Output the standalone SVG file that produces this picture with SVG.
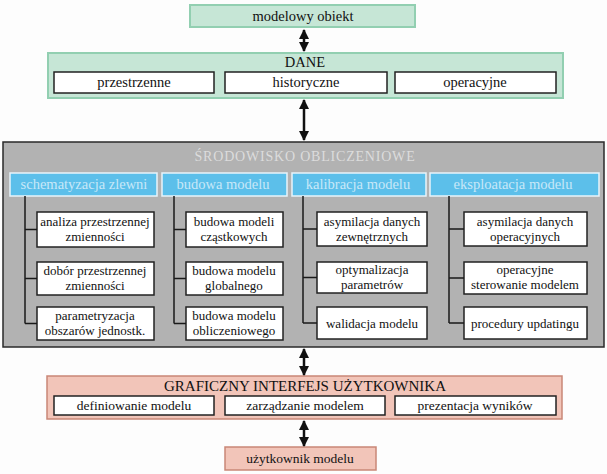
<svg xmlns="http://www.w3.org/2000/svg" width="607" height="474" viewBox="0 0 607 474">
<defs>
<marker id="ah" viewBox="0 0 10 10" refX="9" refY="5" markerWidth="4" markerHeight="4" orient="auto-start-reverse" markerUnits="strokeWidth">
<path d="M0,0 L10,5 L0,10 z" fill="#111"/>
</marker>
<style>
.t{font-family:"Liberation Serif","Times New Roman",serif;font-size:13px;fill:#111;text-anchor:middle}
.tb{font-family:"Liberation Serif","Times New Roman",serif;font-size:14.5px;fill:#111;text-anchor:middle}
.tm{font-family:"Liberation Serif","Times New Roman",serif;font-size:13.5px;fill:#111;text-anchor:middle}
.tg{font-family:"Liberation Serif","Times New Roman",serif;font-size:15px;fill:#111;text-anchor:middle}
.th{font-family:"Liberation Serif","Times New Roman",serif;font-size:14.5px;fill:#c8e8f8;text-anchor:middle}
.tt{font-family:"Liberation Serif","Times New Roman",serif;font-size:14px;fill:#dcdcdc;text-anchor:middle;letter-spacing:0.8px}
.g{fill:#c6e6d6;stroke:#92cfb1;stroke-width:2}
.p{fill:#f2c5b9;stroke:#c98777;stroke-width:1.5}
.w{fill:#fff;stroke:#222;stroke-width:1.5}
.h{fill:#5cbfea;stroke:#e8f4fa;stroke-width:1.5}
.ln{stroke:#1a1a1a;stroke-width:1.5;fill:none}
.ar{stroke:#111;stroke-width:2.5;fill:none;marker-start:url(#ah);marker-end:url(#ah)}
</style>
</defs>
<rect width="607" height="474" fill="#fdfdfd"/>

<g id="modelowy-obiekt">
<rect class="g" x="190" y="5" width="225" height="22"/>
<text class="tb" x="303" y="21">modelowy obiekt</text>
</g>

<g id="dane">
<rect class="g" x="48" y="53" width="515" height="45"/>
<text class="tb" x="305" y="67">DANE</text>
<rect class="w" x="54" y="72" width="160" height="21"/>
<text class="tb" x="134" y="87">przestrzenne</text>
<rect class="w" x="225" y="72" width="162" height="21"/>
<text class="tb" x="306" y="87">historyczne</text>
<rect class="w" x="395" y="72" width="161" height="21"/>
<text class="tb" x="475" y="87">operacyjne</text>
</g>

<g id="srodowisko">
<rect x="3" y="142" width="601" height="205" fill="#b2b2b2" stroke="#2a2a2a" stroke-width="1.5"/>
<text class="tt" x="305" y="161">ŚRODOWISKO OBLICZENIOWE</text>
</g>

<g id="schematyzacja">
<rect class="h" x="10" y="173" width="147" height="23"/>
<text class="th" x="84" y="189">schematyzacja zlewni</text>
<rect class="w" x="37" y="212" width="117" height="35"/>
<text class="t" x="95" y="226">analiza przestrzennej</text>
<text class="t" x="95" y="241">zmienności</text>
<rect class="w" x="37" y="262" width="117" height="33"/>
<text class="t" x="95" y="275">dobór przestrzennej</text>
<text class="t" x="95" y="290">zmienności</text>
<rect class="w" x="37" y="307" width="117" height="33"/>
<text class="t" x="95" y="320">parametryzacja</text>
<text class="t" x="95" y="335">obszarów jednostk.</text>
</g>

<g id="budowa">
<rect class="h" x="162" y="173" width="125" height="23"/>
<text class="th" x="223" y="189">budowa modelu</text>
<rect class="w" x="186" y="212" width="97" height="35"/>
<text class="t" x="234" y="226">budowa modeli</text>
<text class="t" x="234" y="241">cząstkowych</text>
<rect class="w" x="186" y="262" width="97" height="33"/>
<text class="t" x="234" y="275">budowa modelu</text>
<text class="t" x="234" y="290">globalnego</text>
<rect class="w" x="186" y="307" width="97" height="33"/>
<text class="t" x="234" y="320">budowa modelu</text>
<text class="t" x="234" y="335">obliczeniowego</text>
</g>

<g id="kalibracja">
<rect class="h" x="292" y="173" width="134" height="23"/>
<text class="th" x="358" y="189">kalibracja modelu</text>
<rect class="w" x="317" y="212" width="110" height="34"/>
<text class="t" x="372" y="226">asymilacja danych</text>
<text class="t" x="372" y="241">zewnętrznych</text>
<rect class="w" x="317" y="262" width="110" height="31"/>
<text class="t" x="372" y="274">optymalizacja</text>
<text class="t" x="372" y="289">parametrów</text>
<rect class="w" x="317" y="307" width="110" height="32"/>
<text class="t" x="372" y="328">walidacja modelu</text>
</g>

<g id="eksploatacja">
<rect class="h" x="430" y="173" width="169" height="23"/>
<text class="th" x="513" y="189">eksploatacja modelu</text>
<rect class="w" x="464" y="212" width="123" height="34"/>
<text class="t" x="525" y="226">asymilacja danych</text>
<text class="t" x="525" y="241">operacyjnych</text>
<rect class="w" x="464" y="262" width="123" height="32"/>
<text class="t" x="525" y="274">operacyjne</text>
<text class="t" x="525" y="289">sterowanie modelem</text>
<rect class="w" x="464" y="307" width="123" height="32"/>
<text class="t" x="525" y="328">procedury updatingu</text>
</g>

<g id="gui">
<rect class="p" x="47" y="376" width="515" height="43"/>
<text class="tg" x="305" y="391">GRAFICZNY INTERFEJS UŻYTKOWNIKA</text>
<rect class="w" x="54" y="396" width="160" height="19"/>
<text class="tm" x="134" y="410">definiowanie modelu</text>
<rect class="w" x="225" y="396" width="160" height="19"/>
<text class="tm" x="305" y="410">zarządzanie modelem</text>
<rect class="w" x="395" y="396" width="161" height="19"/>
<text class="tm" x="475" y="410">prezentacja wyników</text>
</g>

<g id="uzytkownik">
<rect class="p" x="225" y="447" width="151" height="23"/>
<text class="tm" x="300" y="463">użytkownik modelu</text>
</g>

<g id="connectors">
<line class="ar" x1="304" y1="30" x2="304" y2="51"/>
<line class="ar" x1="304" y1="100" x2="304" y2="140"/>
<line class="ar" x1="304" y1="349" x2="304" y2="375"/>
<line class="ar" x1="304" y1="421" x2="304" y2="446"/>
<path class="ln" d="M25,196 V323.5 M25,229.5 H37 M25,278.5 H37 M25,323.5 H37"/>
<path class="ln" d="M174,196 V323.5 M174,229.5 H186 M174,278.5 H186 M174,323.5 H186"/>
<path class="ln" d="M303,196 V323 M303,229 H317 M303,277.5 H317 M303,323 H317"/>
<path class="ln" d="M449,196 V323 M449,229 H464 M449,278 H464 M449,323 H464"/>
</g>
</svg>
